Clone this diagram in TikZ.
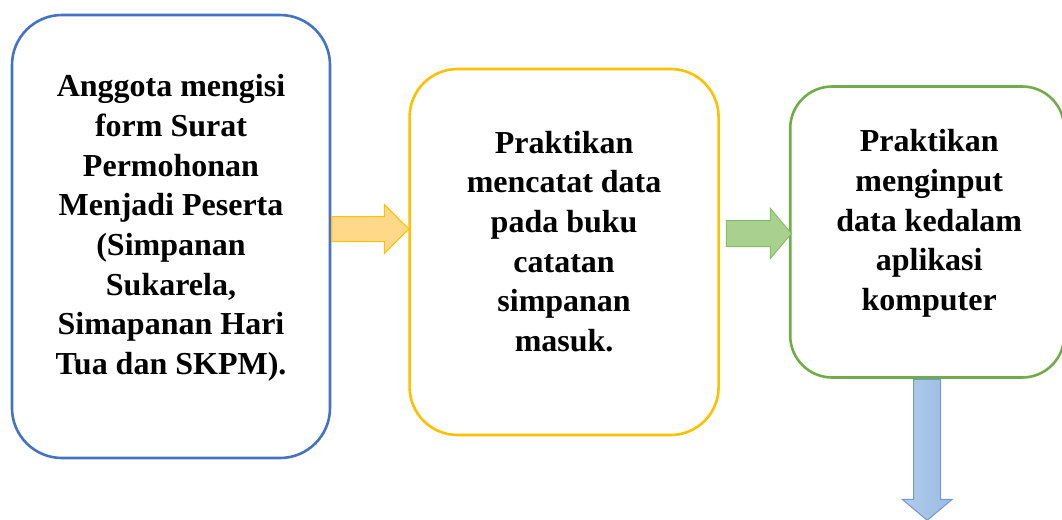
\documentclass[tikz,border=0pt]{standalone}
\usepackage{fontspec}
\setmainfont{Liberation Serif}
\usepackage{tikz}
\usetikzlibrary{positioning,shapes.arrows}
\definecolor{boxblue}{HTML}{4472C4}
\definecolor{boxgold}{HTML}{FFC000}
\definecolor{boxgreen}{HTML}{70AD47}
\definecolor{arrgold}{HTML}{FFD88A}
\definecolor{arrgreen}{HTML}{A9D08E}
\definecolor{arrgreenline}{HTML}{86BF63}
\definecolor{arrbluetop}{HTML}{B3CBEA}
\definecolor{arrbluebot}{HTML}{99BBE4}
\definecolor{arrblueline}{HTML}{6E9AD3}
\tikzstyle{rbox} = [rectangle, line width=1.3pt, fill=white]
\tikzstyle{boxtext} = [align=center, font=\fontsize{16pt}{19.85pt}\selectfont\bfseries, inner sep=0pt]
\tikzstyle{fatarrow} = [single arrow, anchor=tail, line width=0.5pt, minimum width=1pt]

\begin{document}
\begin{tikzpicture}[x=0.5pt, y=-0.5pt]
	\useasboundingbox (0,0) rectangle (1062,520);
	
	\node (anggota) [rbox, draw=boxblue, rounded corners=25pt, minimum width=159pt, minimum height=221.5pt] at (171,236.5) {};
	\node (praktikan) [rbox, draw=boxgold, rounded corners=24pt, minimum width=154.5pt, minimum height=183pt, right=38.5pt of anggota, yshift=-7.75pt] {};
	\node (komputer) [rbox, draw=boxgreen, rounded corners=21pt, minimum width=137pt, minimum height=145.5pt, right=34.5pt of praktikan, yshift=10pt] {};
	
	\node (anggota-text) [boxtext] at ([yshift=4.25pt]anggota.center) {Anggota mengisi\\form Surat\\Permohonan\\Menjadi Peserta\\(Simpanan\\Sukarela,\\Simapanan Hari\\Tua dan SKPM).};
	\node (praktikan-text) [boxtext] at ([yshift=5.25pt]praktikan.center) {Praktikan\\mencatat data\\pada buku\\catatan\\simpanan\\masuk.};
	\node (komputer-text) [boxtext] at ([xshift=1pt,yshift=4.3pt]komputer.center) {Praktikan\\menginput\\data kedalam\\aplikasi\\komputer};
	
	\node (arr1) [fatarrow, fill=arrgold, draw=boxgold, inner sep=6pt, single arrow head extend=6pt, minimum height=38.5pt] at ([yshift=3.75pt]anggota.east) {};
	\node (arr2) [fatarrow, fill=arrgreen, draw=arrgreenline, inner sep=6.25pt, single arrow head extend=6pt, single arrow tip angle=100, minimum height=32.5pt] at ([xshift=3pt,yshift=9.25pt]praktikan.east) {};
	\node (arr3) [fatarrow, rotate=-90, left color=arrbluetop, right color=arrbluebot, draw=arrblueline, inner sep=6.5pt, single arrow head extend=5.75pt, single arrow tip angle=100, minimum height=70.5pt] at (komputer.south) {};
	
\end{tikzpicture}
\end{document}
